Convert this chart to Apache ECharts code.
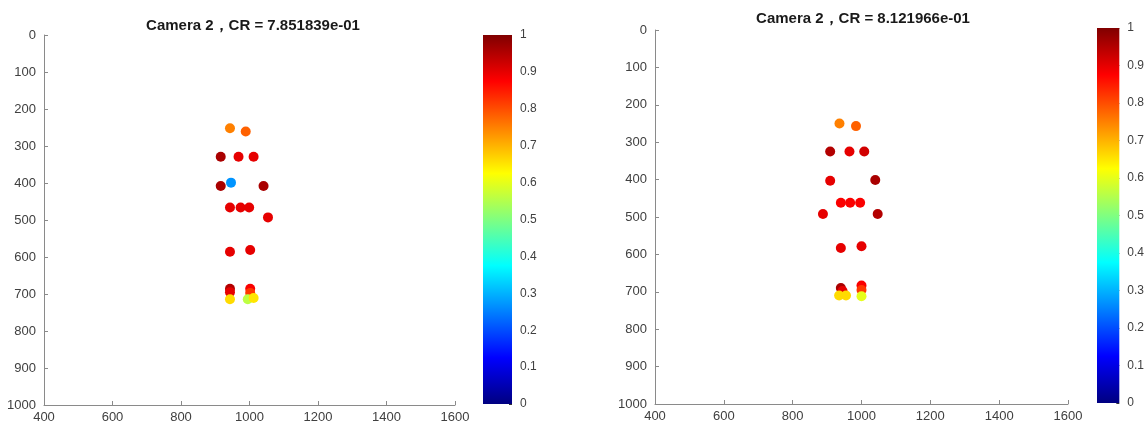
<!DOCTYPE html>
<html>
<head>
<meta charset="utf-8">
<script src="https://cdn.jsdelivr.net/npm/echarts@6/dist/echarts.min.js"></script>
<style>
  html, body { margin: 0; padding: 0; background: #fff; }
  #chart { width: 1147px; height: 428px; }
</style>
</head>
<body>
<div id="chart"></div>
<script>
// Camera 2 keypoints: image position (x, y) and confidence score c
const leftX = [943, 989, 916, 968, 1012, 916, 1041, 943, 974, 999, 1054, 943, 1002, 943, 943, 1002, 1002, 946, 943, 995, 1012];
const leftY = [252, 261, 329, 329, 329, 408, 408, 466, 466, 466, 493, 586, 581, 686, 695, 686, 697, 399, 714, 714, 711];
const leftC = [0.75, 0.78, 0.96, 0.9, 0.9, 0.96, 0.96, 0.9, 0.9, 0.9, 0.9, 0.9, 0.9, 0.95, 0.9, 0.88, 0.82, 0.27, 0.66, 0.56, 0.65];

const rightX = [936, 984, 909, 965, 1008, 909, 1040, 940, 967, 996, 888, 1047, 940, 1000, 940, 945, 1000, 1000, 935, 1000, 955];
const rightY = [250, 257, 325, 325, 325, 403, 401, 462, 462, 462, 492, 492, 583, 578, 690, 698, 683, 695, 710, 712, 710];
const rightC = [0.75, 0.78, 0.95, 0.9, 0.92, 0.9, 0.96, 0.88, 0.88, 0.88, 0.9, 0.95, 0.9, 0.9, 0.96, 0.9, 0.88, 0.82, 0.66, 0.6, 0.66];

const titles = ['Camera 2，CR = 7.851839e-01', 'Camera 2，CR = 8.121966e-01'];
const xTicks = { min: 400, max: 1600, interval: 200 };
const yTicks = { min: 0, max: 1000, interval: 100 };

// jet colormap
const jet = ['#000080', '#0000FF', '#0080FF', '#00FFFF', '#80FF80', '#FFFF00', '#FF8000', '#FF0000', '#800000'];

function pts(xs, ys, cs) {
  return xs.map((x, i) => [x, ys[i], cs[i]]);
}

const FONT = '"Liberation Sans", Arial, sans-serif';
const labelStyle = { color: '#404040', fontSize: 13, fontFamily: FONT };
const axisLineStyle = { lineStyle: { color: '#8a8a8a', width: 1 } };
const plain = v => String(v);

function plotX(gi) {
  return {
    type: 'value', gridIndex: gi, min: xTicks.min, max: xTicks.max, interval: xTicks.interval,
    axisLine: { show: true, onZero: false, ...axisLineStyle },
    axisTick: { show: true, inside: true, length: 4, lineStyle: { color: '#8a8a8a' } },
    axisLabel: { ...labelStyle, margin: 6, formatter: plain, showMinLabel: true, showMaxLabel: true },
    splitLine: { show: false }
  };
}
function plotY(gi) {
  return {
    type: 'value', gridIndex: gi, inverse: true, min: yTicks.min, max: yTicks.max, interval: yTicks.interval,
    axisLine: { show: true, onZero: false, ...axisLineStyle },
    axisTick: { show: true, inside: true, length: 4, lineStyle: { color: '#8a8a8a' } },
    axisLabel: { ...labelStyle, margin: 8, formatter: plain },
    splitLine: { show: false }
  };
}
function barX(gi) {
  return { type: 'category', gridIndex: gi, data: ['c'], show: false };
}
function barY(gi) {
  return {
    type: 'value', gridIndex: gi, position: 'right', min: 0, max: 1, interval: 0.1,
    axisLine: { show: false },
    axisTick: { show: true, inside: true, length: 3, lineStyle: { color: '#333' } },
    axisLabel: { ...labelStyle, fontSize: 12, margin: 8, formatter: v => String(Math.round(v * 10) / 10) },
    splitLine: { show: false }
  };
}

const gradient = new echarts.graphic.LinearGradient(0, 1, 0, 0,
  jet.map((c, i) => ({ offset: i / (jet.length - 1), color: c })));

const titleStyle = { fontSize: 15, fontWeight: 'bold', color: '#1a1a1a', fontFamily: FONT };

const option = {
  backgroundColor: '#ffffff',
  animation: false,
  title: [
    { text: titles[0], left: 248, top: 13, textAlign: 'center', textStyle: titleStyle },
    { text: titles[1], left: 858, top: 6, textAlign: 'center', textStyle: titleStyle }
  ],
  grid: [
    { left: 44, top: 35, width: 411, height: 370 },
    { left: 655, top: 30, width: 413, height: 374 },
    { left: 483, top: 35, width: 29, height: 369 },
    { left: 1097, top: 28, width: 30, height: 375 }
  ],
  xAxis: [plotX(0), plotX(1), barX(2), barX(3)],
  yAxis: [plotY(0), plotY(1), barY(2), barY(3)],
  visualMap: {
    type: 'continuous', show: false, min: 0, max: 1, dimension: 2,
    seriesIndex: [0, 1], inRange: { color: jet }
  },
  series: [
    { type: 'scatter', xAxisIndex: 0, yAxisIndex: 0, symbolSize: 10,
      itemStyle: { opacity: 1 }, data: pts(leftX, leftY, leftC) },
    { type: 'scatter', xAxisIndex: 1, yAxisIndex: 1, symbolSize: 10,
      itemStyle: { opacity: 1 }, data: pts(rightX, rightY, rightC) },
    { type: 'bar', xAxisIndex: 2, yAxisIndex: 2, barWidth: '100%', data: [1],
      itemStyle: { color: gradient }, silent: true },
    { type: 'bar', xAxisIndex: 3, yAxisIndex: 3, barWidth: '100%', data: [1],
      itemStyle: { color: gradient }, silent: true }
  ]
};

const chart = echarts.init(document.getElementById('chart'), null, { renderer: 'canvas' });
chart.setOption(option);
</script>
</body>
</html>
